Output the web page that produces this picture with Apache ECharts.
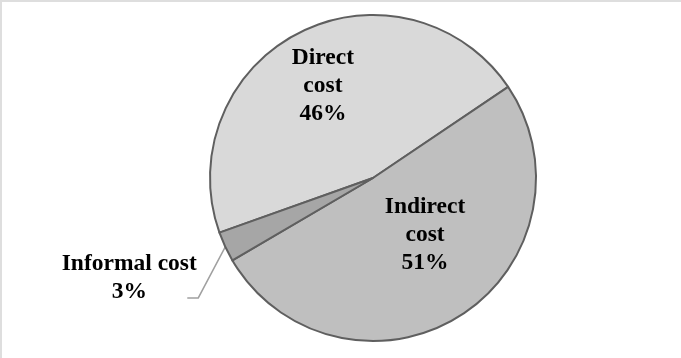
<!DOCTYPE html>
<html>
<head>
<meta charset="utf-8">
<script src="https://cdn.jsdelivr.net/npm/echarts@6/dist/echarts.min.js"></script>
<style>
  html, body { margin: 0; padding: 0; background: #ffffff; }
  #wrap { position: relative; width: 681px; height: 358px; }
  #chart { width: 681px; height: 358px; }
  #frame { position: absolute; left: 0; top: 0; width: 681px; height: 358px;
           border-top: 2px solid #dedede; border-left: 2px solid #dedede;
           box-sizing: border-box; pointer-events: none; }
</style>
</head>
<body>
<div id="wrap">
  <div id="chart"></div>
  <div id="frame"></div>
</div>
<script>
// Cost components (share of total, %)
const categories = ['Direct cost', 'Indirect cost', 'Informal cost'];
const labelTexts = ['Direct\ncost', 'Indirect\ncost', 'Informal cost'];
const shares = [46, 51, 3];
const sliceColors = ['#d9d9d9', '#bfbfbf', '#a6a6a6'];

const chart = echarts.init(document.getElementById('chart'), null, { renderer: 'canvas' });

const data = categories.map((name, i) => ({
  name: name,
  value: shares[i],
  itemStyle: { color: sliceColors[i] },
  label: { position: i < 2 ? 'inside' : 'outside' },
  labelLine: { show: i === 2 }
}));

// nudges for the inside labels, relative to their default spot
const insideShift = [[-12, -17], [7, -15]];

chart.setOption({
  animation: false,
  backgroundColor: '#ffffff',
  series: [{
    type: 'pie',
    center: [373, 178],
    radius: [0, 163],
    startAngle: 199.6,
    clockwise: true,
    avoidLabelOverlap: false,
    silent: true,
    itemStyle: { borderColor: '#5f5f5f', borderWidth: 2 },
    label: {
      formatter: p => labelTexts[p.dataIndex] + '\n' + p.value + '%',
      fontFamily: 'Liberation Serif',
      fontWeight: 'bold',
      fontSize: 23.5,
      lineHeight: 28,
      color: '#000000',
      align: 'center'
    },
    labelLine: {
      length: 20,
      length2: 10,
      lineStyle: { color: '#a0a0a0', width: 1.5 }
    },
    labelLayout: function (params) {
      const i = params.dataIndex;
      if (i < 2) {
        return { dx: insideShift[i][0], dy: insideShift[i][1] };
      }
      const edge = params.labelLinePoints[0];
      const bend = [edge[0] - 27, edge[1] + 51];
      const end = [edge[0] - 38, edge[1] + 51];
      return {
        x: edge[0] - 96,
        y: edge[1] + 31,
        align: 'center',
        verticalAlign: 'middle',
        labelLinePoints: [edge, bend, end]
      };
    },
    data: data
  }]
});
</script>
</body>
</html>
